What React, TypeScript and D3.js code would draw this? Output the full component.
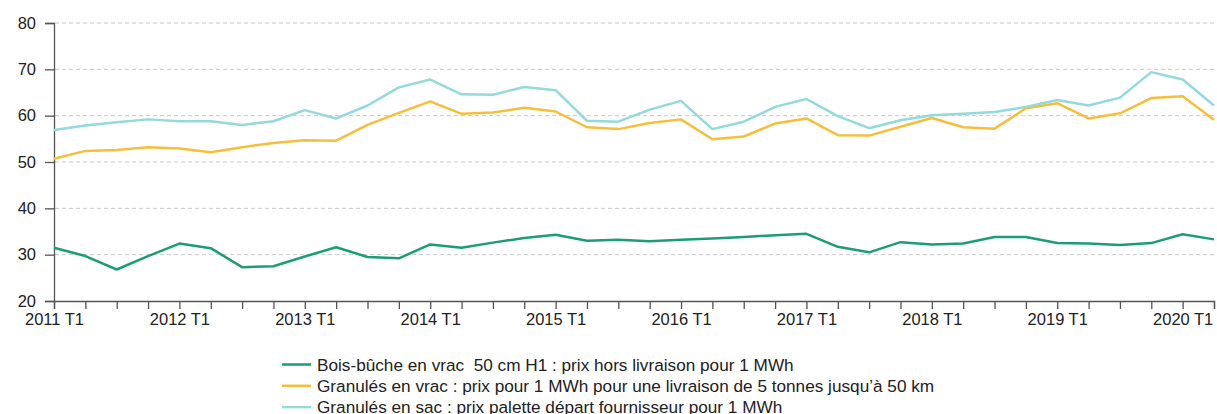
import React, { useRef, useEffect } from "react";
import * as d3 from "d3";

// quarters 2011 T1 .. 2020 T2
const years = [2011, 2012, 2013, 2014, 2015, 2016, 2017, 2018, 2019, 2020];
const quarters = years.flatMap((y) => [1, 2, 3, 4].map((q) => `${y} T${q}`)).slice(0, 38);
const yTicks = [20, 30, 40, 50, 60, 70, 80];

const boisBuche = [
  31.5, 29.7, 26.8, 29.7, 32.4, 31.4, 27.3, 27.5, 29.6, 31.6, 29.5, 29.2, 32.2, 31.5, 32.6, 33.6,
  34.3, 33.0, 33.2, 32.9, 33.2, 33.5, 33.8, 34.2, 34.5, 31.7, 30.5, 32.7, 32.2, 32.4, 33.8, 33.8,
  32.5, 32.4, 32.1, 32.5, 34.4, 33.3,
];
const granulesVrac = [
  50.7, 52.4, 52.6, 53.2, 52.9, 52.1, 53.2, 54.1, 54.7, 54.6, 58.0, 60.6, 63.1, 60.4, 60.7, 61.7,
  60.9, 57.5, 57.1, 58.4, 59.2, 54.9, 55.5, 58.3, 59.4, 55.8, 55.7, 57.6, 59.5, 57.5, 57.2, 61.6,
  62.7, 59.4, 60.5, 63.8, 64.2, 59.1,
];
const granulesSac = [
  56.9, 57.9, 58.6, 59.2, 58.8, 58.8, 58.0, 58.8, 61.2, 59.4, 62.2, 66.1, 67.8, 64.6, 64.5, 66.2,
  65.5, 58.9, 58.7, 61.3, 63.2, 57.1, 58.7, 61.9, 63.6, 59.9, 57.3, 59.0, 60.1, 60.4, 60.8, 61.9,
  63.4, 62.2, 63.9, 69.4, 67.8, 62.2,
];

const seriesNames = [
  "Bois-bûche en vrac  50 cm H1 : prix hors livraison pour 1 MWh",
  "Granulés en vrac : prix pour 1 MWh pour une livraison de 5 tonnes jusqu’à 50 km",
  "Granulés en sac : prix palette départ fournisseur pour 1 MWh",
];
const seriesColors = ["#1b9e77", "#f6bf3a", "#92dadb"];

const App = () => {
  const svgRef = useRef<SVGSVGElement>(null);
  const width = 1217;
  const height = 414;

  useEffect(() => {
    const svg = d3.select(svgRef.current);
    svg.selectAll("*").remove();
    const font = "'Liberation Sans', Arial, sans-serif";

    const x = d3.scaleLinear().domain([0, quarters.length - 1]).range([54, 1214]);
    const y = d3.scaleLinear().domain([20, 80]).range([301, 23]);

    // grid
    svg
      .append("g")
      .selectAll("line")
      .data(yTicks.slice(1))
      .join("line")
      .attr("x1", 55)
      .attr("x2", width)
      .attr("y1", (d) => y(d))
      .attr("y2", (d) => y(d))
      .attr("stroke", "#c8c8c8")
      .attr("stroke-dasharray", "4,3")
      .attr("stroke-width", 1);

    // y axis
    const yAxis = svg
      .append("g")
      .attr("transform", "translate(54,0)")
      .call(d3.axisLeft(y).tickValues(yTicks).tickSize(9).tickPadding(9));
    yAxis.select(".domain").attr("stroke", "#555").attr("stroke-width", 1.3);
    yAxis.selectAll(".tick line").attr("stroke", "#555").attr("stroke-width", 1.3);
    yAxis.selectAll("text").attr("font-family", font).attr("font-size", 16.5).attr("fill", "#222");

    // x axis
    const xAxis = svg
      .append("g")
      .attr("transform", "translate(0,301)")
      .call(
        d3
          .axisBottom(x)
          .tickValues(d3.range(quarters.length))
          .tickSize(8)
          .tickPadding(4)
          .tickFormat((i) => (quarters[+i].endsWith("T1") ? quarters[+i] : ""))
      );
    xAxis.select(".domain").attr("stroke", "#555").attr("stroke-width", 1.3);
    xAxis.selectAll(".tick line").attr("stroke", "#555").attr("stroke-width", 1.3);
    xAxis.selectAll("text").attr("font-family", font).attr("font-size", 16.5).attr("fill", "#222");

    // lines
    const allSeries = [boisBuche, granulesVrac, granulesSac];
    const line = d3
      .line<number>()
      .x((_, i) => x(i))
      .y((d) => y(d));
    allSeries.forEach((s, k) => {
      svg
        .append("path")
        .datum(s)
        .attr("fill", "none")
        .attr("stroke", seriesColors[k])
        .attr("stroke-width", 2.5)
        .attr("stroke-linejoin", "round")
        .attr("d", line);
    });

    // legend
    const legend = svg
      .append("g")
      .selectAll("g")
      .data(seriesNames)
      .join("g")
      .attr("transform", (_, i) => `translate(282,${364.5 + i * 21.3})`);
    legend
      .append("line")
      .attr("x1", 0)
      .attr("x2", 29)
      .attr("stroke", (_, i) => seriesColors[i])
      .attr("stroke-width", 2.5);
    legend
      .append("text")
      .attr("x", 35)
      .attr("y", 6)
      .attr("font-family", font)
      .attr("font-size", 17.2)
      .attr("fill", "#222")
      .style("white-space", "pre")
      .text((d) => d);
  }, []);

  return (
    <svg
      ref={svgRef}
      width={width}
      height={height}
      style={{ position: "absolute", left: 0, top: 0 }}
    />
  );
};

export default App;
